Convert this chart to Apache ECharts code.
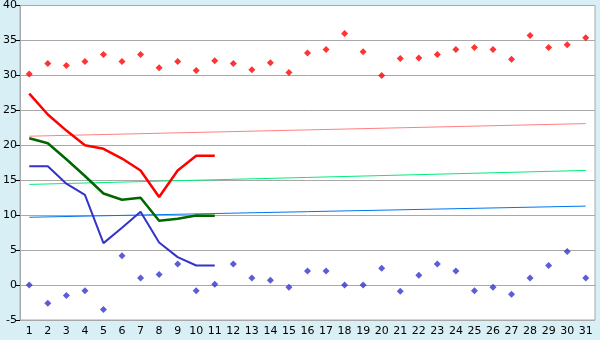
<!DOCTYPE html>
<html><head><meta charset="utf-8">
<script src="https://cdn.jsdelivr.net/npm/echarts@6/dist/echarts.min.js"></script>
<style>html,body{margin:0;padding:0;background:#d9eff6;}#c{width:600px;height:340px;}</style>
</head><body><div id="c"></div>
<script>
var categories = ['1','2','3','4','5','6','7','8','9','10','11','12','13','14','15','16','17','18','19','20','21','22','23','24','25','26','27','28','29','30','31'];
var maxPoints = [30.2,31.7,31.4,32.0,33.0,32.0,33.0,31.1,32.0,30.7,32.1,31.7,30.8,31.8,30.4,33.2,33.7,36.0,33.4,30.0,32.4,32.5,33.0,33.7,34.0,33.7,32.3,35.7,34.0,34.4,35.4];
var minPoints = [0,-2.6,-1.5,-0.8,-3.5,4.2,1.0,1.5,3.0,-0.8,0.1,3.0,1.0,0.7,-0.3,2.0,2.0,0,0,2.4,-0.9,1.4,3.0,2.0,-0.8,-0.3,-1.3,1.0,2.8,4.8,1.0];
var redLine = [27.4,24.4,22.1,20.0,19.5,18.1,16.4,12.6,16.4,18.5,18.5];
var greenLine = [21.0,20.3,18.0,15.6,13.1,12.2,12.5,9.2,9.5,9.95,9.9];
var blueLine = [17.0,17.0,14.5,12.9,6.0,8.2,10.5,6.1,4.0,2.8,2.8];
var pinkTrend = [21.3,23.1];
var greenTrend = [14.4,16.4];
var blueTrend = [9.7,11.3];
var yTicks = [-5,0,5,10,15,20,25,30,35,40];

function ends(pair){var a=categories.map(function(){return null;});a[0]=pair[0];a[a.length-1]=pair[1];return a;}

var chart = echarts.init(document.getElementById('c'));
var font = 'DejaVu Sans';
chart.setOption({
  animation:false,
  backgroundColor:'#d9eff6',
  grid:{left:20,right:5,top:5,bottom:20,show:true,backgroundColor:'#ffffff',borderColor:'#a8a8a8',borderWidth:1},
  xAxis:{type:'category',data:categories,boundaryGap:true,
    axisLine:{lineStyle:{color:'#a8a8a8',width:1}},
    axisTick:{alignWithLabel:true,length:4,lineStyle:{color:'#000000'}},
    axisLabel:{color:'#000',fontFamily:font,fontSize:11,margin:6,interval:0},
    splitLine:{show:false}},
  yAxis:{type:'value',min:yTicks[0],max:yTicks[yTicks.length-1],interval:5,
    axisLine:{show:true,lineStyle:{color:'#a8a8a8'}},
    axisTick:{show:true,length:4,lineStyle:{color:'#000'}},
    axisLabel:{color:'#000',fontFamily:font,fontSize:11,margin:3},
    splitLine:{lineStyle:{color:'#a8a8a8',width:1}}},
  series:[
    {type:'line',data:ends(pinkTrend),connectNulls:true,symbol:'none',lineStyle:{color:'#ff8080',width:1},z:2},
    {type:'line',data:ends(greenTrend),connectNulls:true,symbol:'none',lineStyle:{color:'#00ee77',width:1},z:2},
    {type:'line',data:ends(blueTrend),connectNulls:true,symbol:'none',lineStyle:{color:'#0077ee',width:1},z:2},
    {type:'line',data:redLine,symbol:'none',lineStyle:{color:'#ff0000',width:2.5},z:3},
    {type:'line',data:greenLine,symbol:'none',lineStyle:{color:'#006600',width:2.5},z:3},
    {type:'line',data:blueLine,symbol:'none',lineStyle:{color:'#3333cc',width:2},z:3},
    {type:'scatter',data:maxPoints,symbol:'diamond',symbolSize:7,itemStyle:{color:'#ff0000'},z:4},
    {type:'scatter',data:minPoints,symbol:'diamond',symbolSize:7,itemStyle:{color:'#3333cc'},z:4}
  ]
});
</script></body></html>
